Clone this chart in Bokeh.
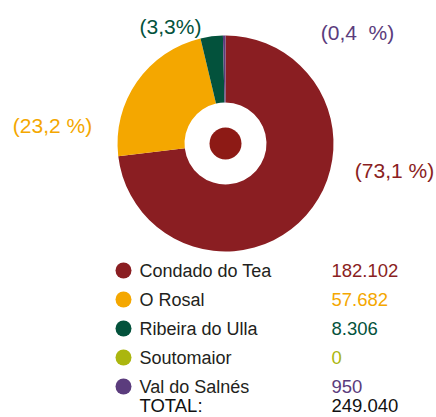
import math
from bokeh.plotting import figure
from bokeh.models import ColumnDataSource, Range1d
from bokeh.core.properties import value
from bokeh.embed import file_html
from bokeh.resources import INLINE

# ---- data ----
names = ["Condado do Tea", "O Rosal", "Ribeira do Ulla", "Soutomaior", "Val do Salnés"]
values = [182102, 57682, 8306, 0, 950]
value_labels = ["182.102", "57.682", "8.306", "0", "950"]
pct_labels = ["(73,1 %)", "(23,2 %)", "(3,3%)", "", "(0,4 \u00a0%)"]
total_label = "TOTAL:"
total_value = "249.040"
colors = ["#8A1E22", "#F4A700", "#03523C", "#ABB60F", "#5B3C7D"]

# ---- layout (pixels, y measured from top) ----
W, H = 436, 417
FONT = "Liberation Sans"
cx, cy = 225, 143
r_out, r_in, r_dot = 108, 41, 16
pct_pos = [(394, 170), (52, 125), (170, 26), (0, 0), (357, 32)]
leg_x_dot, leg_x_name, leg_x_val = 123, 139, 331
leg_y0, leg_dy = 270, 29.0
total_y = 405


def Y(y):
    return H - y


p = figure(width=W, height=H, output_backend="svg", toolbar_location=None,
           x_range=Range1d(0, W), y_range=Range1d(0, H), min_border=0,
           background_fill_color="white", border_fill_color="white")
p.axis.visible = False
p.grid.visible = False
p.outline_line_color = None

total = sum(values)
starts, ends = [], []
acc = 0.0
for v in values:
    a0 = math.pi / 2 - acc / total * 2 * math.pi
    acc += v
    a1 = math.pi / 2 - acc / total * 2 * math.pi
    starts.append(a0)
    ends.append(a1)

keep = [i for i, v in enumerate(values) if v > 0]
wsrc = ColumnDataSource(dict(
    x=[cx] * len(keep), y=[Y(cy)] * len(keep),
    start=[starts[i] for i in keep], end=[ends[i] for i in keep],
    color=[colors[i] for i in keep]))
p.annular_wedge(x="x", y="y", inner_radius=r_in, outer_radius=r_out,
                start_angle="start", end_angle="end", direction="clock",
                fill_color="color", line_color=None, source=wsrc)
p.scatter(x=[cx], y=[Y(cy)], size=2 * r_dot, marker="circle",
          fill_color="#8D1A15", line_color=None)

# percentage labels
pk = [i for i in range(len(names)) if pct_labels[i]]
psrc = ColumnDataSource(dict(
    x=[pct_pos[i][0] for i in pk], y=[Y(pct_pos[i][1]) for i in pk],
    t=[pct_labels[i] for i in pk], c=[colors[i] for i in pk]))
p.text(x="x", y="y", text="t", text_color="c", source=psrc,
       text_font=value(FONT), text_font_size="21px",
       text_align="center", text_baseline="middle")

# legend
ys = [Y(leg_y0 + i * leg_dy) for i in range(len(names))]
lsrc = ColumnDataSource(dict(
    xd=[leg_x_dot] * len(names), xn=[leg_x_name] * len(names),
    xv=[leg_x_val] * len(names), y=ys, n=names, v=value_labels, c=colors))
p.scatter(x="xd", y="y", size=16, marker="circle", fill_color="c",
          line_color=None, source=lsrc)
p.text(x="xn", y="y", text="n", text_color="#231F20", source=lsrc,
       text_font=value(FONT), text_font_size="18px",
       text_align="left", text_baseline="middle")
p.text(x="xv", y="y", text="v", text_color="c", source=lsrc,
       text_font=value(FONT), text_font_size="18.5px",
       text_align="left", text_baseline="middle")
p.text(x=[leg_x_name, leg_x_val], y=[Y(total_y)] * 2,
       text=[total_label, total_value], text_color="#111111",
       text_font=value(FONT), text_font_size="18.5px",
       text_align="left", text_baseline="middle")

open("out.html", "w").write(file_html(p, INLINE))
